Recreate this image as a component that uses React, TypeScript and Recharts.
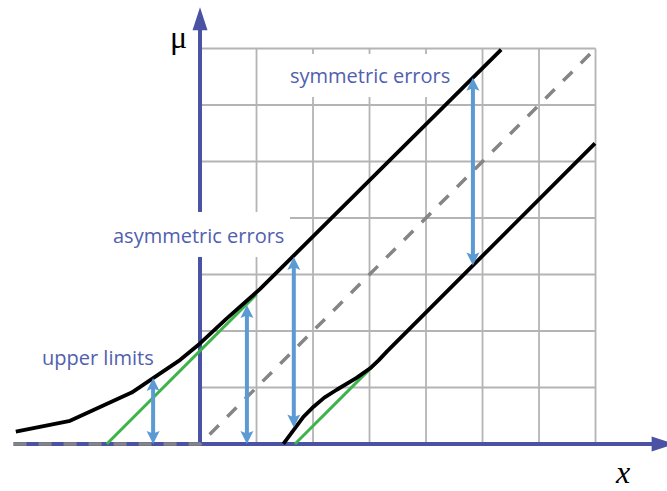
import {
  ComposedChart,
  Line,
  XAxis,
  YAxis,
  ReferenceLine,
  ReferenceDot,
} from "recharts";

// one grid cell = one unit, origin at the crossing of the two axes
const X_DOMAIN = [-3.54, 8.265];
const Y_DOMAIN = [-0.832, 7.858];
const GRID_TICKS = [1, 2, 3, 4, 5, 6, 7];
const GRID_MAX = 7;

// upper edge of the belt
const upperBelt = [
  { x: -3.26, y: 0.22 },
  { x: -2.3, y: 0.41 },
  { x: -1.21, y: 0.91 },
  { x: -0.35, y: 1.49 },
  { x: 0, y: 1.78 },
  { x: 0.47, y: 2.22 },
  { x: 1.06, y: 2.74 },
  { x: 5.33, y: 6.98 },
];

// lower edge of the belt
const lowerBelt = [
  { x: 1.475, y: 0 },
  { x: 1.83, y: 0.48 },
  { x: 2.01, y: 0.66 },
  { x: 2.2, y: 0.82 },
  { x: 2.42, y: 0.96 },
  { x: 2.77, y: 1.17 },
  { x: 3.01, y: 1.34 },
  { x: 3.16, y: 1.48 },
  { x: 3.31, y: 1.64 },
  { x: 6.99, y: 5.32 },
];

// straight gaussian edges (green)
const upperGauss = [
  { x: -1.65, y: 0 },
  { x: 1.0, y: 2.65 },
];
const lowerGauss = [
  { x: 1.68, y: 0 },
  { x: 3.2, y: 1.52 },
];

// mu = x, cut at zero
const truth = [
  { x: -3.3, y: 0 },
  { x: 0, y: 0 },
  { x: 7, y: 7 },
];

// vertical interval arrows: x, from, to
const intervals = [
  { x: -0.83, from: 0, to: 1.17 },
  { x: 0.83, from: 0, to: 2.46 },
  { x: 1.66, from: 0.29, to: 3.31 },
  { x: 4.83, from: 3.16, to: 6.48 },
];

const labelTexts = ["symmetric errors", "asymmetric errors", "upper limits"];

// where each label sits, plus the white patch behind it (px, relative to the text start)
const labelLayout = [
  { x: 1.593, y: 6.389, box: [-10, -29, 170, 43] },
  { x: -1.54, y: 3.558, box: [-8, -31, 185, 45] },
  { x: -2.796, y: 1.398, box: null },
];

const AXIS_BLUE = "#4a53a3";
const ARROW_BLUE = "#5b9ad3";
const TEXT_BLUE = "#5060ae";
const GREEN = "#3cb44a";
const GRID = "#b4b4b4";

const arrowShape =
  (
    color: string,
    width: number,
    len: number,
    half: number,
    both: boolean,
    notch = 1
  ) =>
  (p: any) => {
    const { x1, y1, x2, y2 } = p;
    const dx = x2 - x1;
    const dy = y2 - y1;
    const L = Math.hypot(dx, dy) || 1;
    const ux = dx / L;
    const uy = dy / L;
    const px = -uy;
    const py = ux;
    const head = (tx: number, ty: number, sx: number, sy: number) =>
      `${tx},${ty} ${tx - sx * len + px * half},${ty - sy * len + py * half} ${
        tx - sx * len * notch
      },${ty - sy * len * notch} ${tx - sx * len - px * half},${
        ty - sy * len - py * half
      }`;
    const sx1 = both ? x1 + ux * len * 0.7 : x1;
    const sy1 = both ? y1 + uy * len * 0.7 : y1;
    const sx2 = x2 - ux * len * 0.7;
    const sy2 = y2 - uy * len * 0.7;
    return (
      <g>
        <line x1={sx1} y1={sy1} x2={sx2} y2={sy2} stroke={color} strokeWidth={width} />
        <polygon points={head(x2, y2, ux, uy)} fill={color} />
        {both && <polygon points={head(x1, y1, -ux, -uy)} fill={color} />}
      </g>
    );
  };

const textShape =
  (
    text: string,
    size: number,
    color: string,
    family: string,
    italic = false,
    box: number[] | null = null
  ) =>
  (p: any) =>
    (
      <g>
        {box && (
          <rect
            x={p.cx + box[0]}
            y={p.cy + box[1]}
            width={box[2]}
            height={box[3]}
            fill="#fff"
          />
        )}
        <text
          x={p.cx}
          y={p.cy}
          fill={color}
          fontSize={size}
          fontFamily={family}
          fontStyle={italic ? "italic" : "normal"}
        >
          {text}
        </text>
      </g>
    );

const lineCommon = {
  dataKey: "y",
  type: "linear" as const,
  dot: false,
  activeDot: false,
  isAnimationActive: false,
};

const App = () => {
  return (
    <div style={{ position: "absolute", left: 0, top: 0, background: "#fff" }}>
      <ComposedChart
        width={667}
        height={491}
        margin={{ top: 0, right: 0, bottom: 0, left: 0 }}
      >
        <XAxis
          type="number"
          dataKey="x"
          domain={X_DOMAIN}
          allowDataOverflow
          hide
        />
        <YAxis
          type="number"
          dataKey="y"
          domain={Y_DOMAIN}
          allowDataOverflow
          hide
        />

        {GRID_TICKS.map((t) => (
          <ReferenceLine
            key={`v${t}`}
            segment={[
              { x: t, y: 0 },
              { x: t, y: GRID_MAX },
            ]}
            stroke={GRID}
            strokeWidth={1.8}
            ifOverflow="visible"
          />
        ))}
        {GRID_TICKS.map((t) => (
          <ReferenceLine
            key={`h${t}`}
            segment={[
              { x: 0, y: t },
              { x: GRID_MAX, y: t },
            ]}
            stroke={GRID}
            strokeWidth={1.8}
            ifOverflow="visible"
          />
        ))}

        {/* axes */}
        <ReferenceLine
          segment={[
            { x: -3.3, y: 0 },
            { x: 8.4, y: 0 },
          ]}
          ifOverflow="visible"
          shape={arrowShape(AXIS_BLUE, 4, 23, 7.5, false)}
        />
        <ReferenceLine
          segment={[
            { x: 0, y: 0 },
            { x: 0, y: 7.73 },
          ]}
          ifOverflow="visible"
          shape={arrowShape(AXIS_BLUE, 4, 23, 7.5, false)}
        />

        {labelTexts.map((t, i) => (
          <ReferenceDot
            key={`lab${i}`}
            x={labelLayout[i].x}
            y={labelLayout[i].y}
            r={0}
            ifOverflow="visible"
            shape={textShape(
              t,
              20,
              TEXT_BLUE,
              "'Open Sans', sans-serif",
              false,
              labelLayout[i].box
            )}
          />
        ))}

        <Line {...lineCommon} data={upperGauss} stroke={GREEN} strokeWidth={3} />
        <Line {...lineCommon} data={lowerGauss} stroke={GREEN} strokeWidth={3} />
        <Line
          {...lineCommon}
          data={truth}
          stroke="#858585"
          strokeWidth={3.5}
          strokeDasharray="13 12"
        />
        <Line
          {...lineCommon}
          data={upperBelt}
          stroke="#000"
          strokeWidth={3.8}
          strokeLinejoin="round"
        />
        <Line
          {...lineCommon}
          data={lowerBelt}
          stroke="#000"
          strokeWidth={3.8}
          strokeLinejoin="round"
        />

        {intervals.map((a, i) => (
          <ReferenceLine
            key={`arr${i}`}
            segment={[
              { x: a.x, y: a.from },
              { x: a.x, y: a.to },
            ]}
            ifOverflow="visible"
            shape={arrowShape(ARROW_BLUE, 4, 13, 6.5, true, 0.8)}
          />
        ))}

        <ReferenceDot
          x={-0.531}
          y={7.009}
          r={0}
          ifOverflow="visible"
          shape={textShape("μ", 32, "#000", "'Liberation Serif', serif")}
        />
        <ReferenceDot
          x={7.363}
          y={-0.69}
          r={0}
          ifOverflow="visible"
          shape={textShape("x", 32, "#000", "'Liberation Serif', serif", true)}
        />
      </ComposedChart>
    </div>
  );
};

export default App;
